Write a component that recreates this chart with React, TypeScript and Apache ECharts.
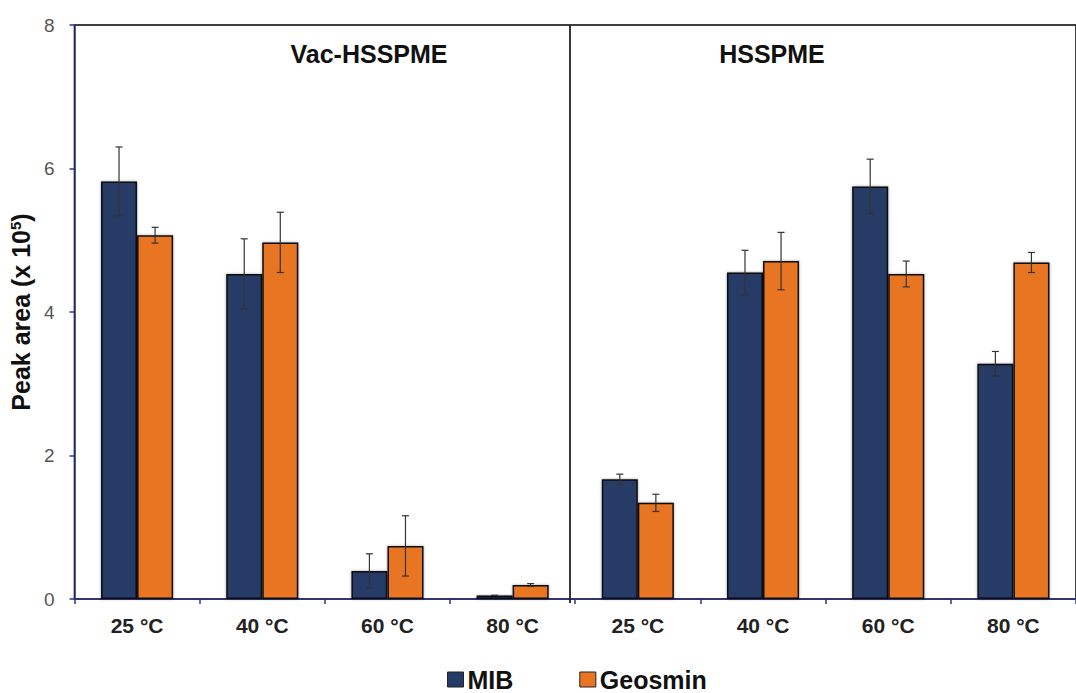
import React, { useEffect, useRef } from "react";
import * as echarts from "echarts";

const categories = ["25 °C", "40 °C", "60 °C", "80 °C", "25 °C", "40 °C", "60 °C", "80 °C"];
const mib = [5.82, 4.53, 0.39, 0.05, 1.67, 4.55, 5.75, 3.28];
const mibErr = [0.48, 0.49, 0.24, 0.0, 0.07, 0.31, 0.38, 0.17];
const geosmin = [5.07, 4.97, 0.74, 0.195, 1.34, 4.71, 4.53, 4.69];
const geosminErr = [0.11, 0.42, 0.42, 0.02, 0.12, 0.4, 0.18, 0.14];
const yTicks = { min: 0, max: 8, interval: 2 };
const panelTitles = ["Vac-HSSPME", "HSSPME"];

const NAVY = "#253a66";
const ORANGE = "#e87424";
const BAR_FRAC = 0.288;

function errorSeries(name: string, vals: number[], errs: number[], sign: number) {
  return {
    type: "custom",
    name: name + "-err",
    z: 10,
    silent: true,
    data: vals.map((v, i) => [i, v, errs[i]]),
    renderItem: (params: any, api: any) => {
      const i = api.value(0);
      const v = api.value(1);
      const e = api.value(2);
      const band = api.size([1, 0])[0];
      const off = sign * band * BAR_FRAC * 0.5;
      const top = api.coord([i, v + e]);
      const bot = api.coord([i, v - e]);
      const x = top[0] + off;
      const cap = 3.5;
      const style = { stroke: "#333", lineWidth: 1.2 };
      return {
        type: "group",
        children: [
          { type: "line", shape: { x1: x, y1: top[1], x2: x, y2: bot[1] }, style },
          { type: "line", shape: { x1: x - cap, y1: top[1], x2: x + cap, y2: top[1] }, style },
          { type: "line", shape: { x1: x - cap, y1: bot[1], x2: x + cap, y2: bot[1] }, style },
        ],
      };
    },
  };
}

export default function App() {
  const ref = useRef<HTMLDivElement>(null);
  useEffect(() => {
    if (!ref.current) return;
    const chart = echarts.init(ref.current, null, { renderer: "svg" });
    const barCommon = {
      type: "bar",
      barWidth: BAR_FRAC * 100 + "%",
      barGap: "0%",
    };
    chart.setOption({
      animation: false,
      backgroundColor: "#ffffff",
      textStyle: { fontFamily: "Liberation Sans, Arial, sans-serif" },
      grid: {
        left: 73,
        top: 25,
        width: 1010,
        height: 574,
        show: true,
        borderColor: "#000",
        borderWidth: 1.5,
        backgroundColor: "transparent",
      },
      title: [
        {
          text: panelTitles[0],
          left: 364,
          top: 36,
          textAlign: "center",
          textStyle: { fontSize: 25, fontWeight: "bold", color: "#111" },
        },
        {
          text: panelTitles[1],
          left: 767,
          top: 36,
          textAlign: "center",
          textStyle: { fontSize: 25, fontWeight: "bold", color: "#111" },
        },
      ],
      legend: {
        top: 667,
        left: 447,
        padding: 0,
        icon: "rect",
        itemWidth: 16,
        itemHeight: 15,
        itemGap: 66,
        data: ["MIB", "Geosmin"],
        itemStyle: { borderColor: "#222", borderWidth: 1 },
        textStyle: { fontSize: 25, lineHeight: 25, fontWeight: "bold", color: "#111", padding: [0, 0, 0, -1] },
      },
      xAxis: {
        type: "category",
        data: categories,
        axisLine: { lineStyle: { color: "#2b3585", width: 1.5 } },
        axisTick: { show: true, length: 5, alignWithLabel: false, lineStyle: { color: "#2b3585", width: 1.5 } },
        axisLabel: { fontSize: 21, fontWeight: "bold", color: "#222", margin: 16, interval: 0 },
        splitLine: { show: false },
      },
      yAxis: {
        type: "value",
        min: yTicks.min,
        max: yTicks.max,
        interval: yTicks.interval,
        name: "{a|Peak area (x 10}{s|5}{a|)}",
        nameLocation: "middle",
        nameGap: 40,
        nameRotate: 90,
        nameTextStyle: {
          rich: {
            a: { fontSize: 25, fontWeight: "bold", color: "#111" },
            s: { fontSize: 15, fontWeight: "bold", color: "#111", verticalAlign: "top", padding: [0, 0, 10, 0] },
          },
        },
        axisLine: { show: true, lineStyle: { color: "#2b3585", width: 1.5 } },
        axisTick: { show: true, length: 5, lineStyle: { color: "#2b3585", width: 1.5 } },
        axisLabel: { fontSize: 19, color: "#555", margin: 20 },
        splitLine: { show: false },
      },
      graphic: [
        {
          type: "line",
          shape: { x1: 570, y1: 25, x2: 570, y2: 603 },
          style: { stroke: "#222", lineWidth: 1.8 },
          z: 20,
        },
      ],
      series: [
        {
          ...barCommon,
          name: "MIB",
          data: mib,
          itemStyle: { color: NAVY, borderColor: "#0d0d0d", borderWidth: 1.5, shadowBlur: 3, shadowColor: "rgba(0,0,0,0.35)" },
        },
        {
          ...barCommon,
          name: "Geosmin",
          data: geosmin,
          itemStyle: { color: ORANGE, borderColor: "#0d0d0d", borderWidth: 1.5, shadowBlur: 3, shadowColor: "rgba(0,0,0,0.35)" },
        },
        errorSeries("MIB", mib, mibErr, -1),
        errorSeries("Geosmin", geosmin, geosminErr, 1),
      ],
    });
    return () => chart.dispose();
  }, []);
  return (
    <div
      ref={ref}
      style={{ position: "fixed", left: 0, top: 0, width: 1076, height: 693, background: "#fff" }}
    />
  );
}
